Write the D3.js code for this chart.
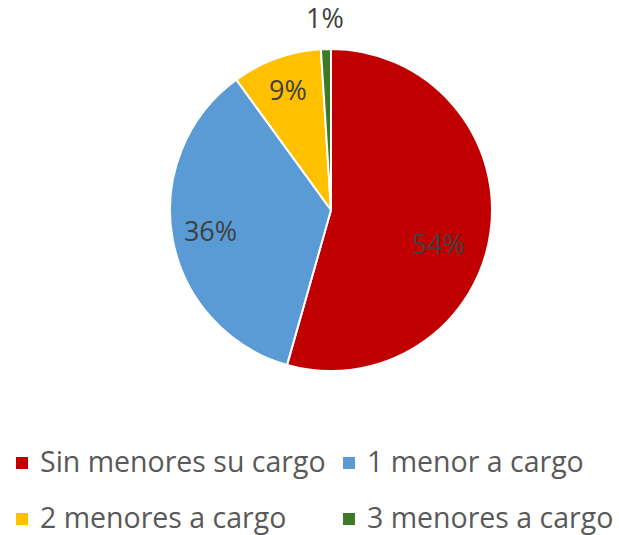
<!DOCTYPE html>
<html>
<head>
<meta charset="utf-8">
<script src="https://cdn.jsdelivr.net/npm/d3@7"></script>
<style>
  body { margin: 0; background: #fff; }
  text { font-family: "Open Sans", "Noto Sans", sans-serif; }
</style>
</head>
<body>
<div id="chart"></div>
<script>
// datos del gráfico
const categorias = ["Sin menores su cargo", "1 menor a cargo", "2 menores a cargo", "3 menores a cargo"];
const valores = [54.4, 35.6, 9.0, 1.0];
const etiquetas = ["54%", "36%", "9%", "1%"];
const colores = ["#C00000", "#5B9BD5", "#FFC000", "#3E7A26"];

const width = 619, height = 535;
const cx = 331, cy = 210, radio = 161;

const svg = d3.select("#chart")
    .append("svg")
    .attr("width", width)
    .attr("height", height);

const pie = d3.pie().sort(null).value(d => d);
const arcos = pie(valores);

const arc = d3.arc().innerRadius(0).outerRadius(radio);

const g = svg.append("g").attr("transform", `translate(${cx},${cy})`);

// porciones
g.selectAll("path")
    .data(arcos)
    .enter()
    .append("path")
    .attr("d", arc)
    .attr("fill", (d, i) => colores[i])
    .attr("stroke", "#fff")
    .attr("stroke-width", 2)
    .attr("stroke-linejoin", "round");

// etiquetas de porcentaje (la pequeña va por fuera, como en Excel "mejor ajuste")
const radiosEtiqueta = [0.70, 0.76, 0.79, 1.19];
const giroEtiqueta = [0.168, 0, 0, 0];
g.selectAll("text.pct")
    .data(arcos)
    .enter()
    .append("text")
    .attr("class", "pct")
    .attr("transform", (d, i) => {
        const r = radio * radiosEtiqueta[i];
        const a = (d.startAngle + d.endAngle) / 2 + giroEtiqueta[i];
        return `translate(${Math.sin(a) * r},${-Math.cos(a) * r})`;
    })
    .attr("text-anchor", "middle")
    .attr("dy", "0.36em")
    .attr("font-size", "27px")
    .attr("fill", "#404040")
    .text((d, i) => etiquetas[i]);

// leyenda en dos columnas
const leyenda = svg.append("g");
const colX = [16, 343], filaY = [472, 528];

const items = leyenda.selectAll("g")
    .data(categorias)
    .enter()
    .append("g")
    .attr("transform", (d, i) => `translate(${colX[i % 2]},${filaY[Math.floor(i / 2)]})`);

items.append("rect")
    .attr("x", 0)
    .attr("y", -15)
    .attr("width", 12)
    .attr("height", 12)
    .attr("fill", (d, i) => colores[i]);

items.append("text")
    .attr("x", 24)
    .attr("font-size", "28.5px")
    .attr("fill", "#595959")
    .text(d => d);
</script>
</body>
</html>
